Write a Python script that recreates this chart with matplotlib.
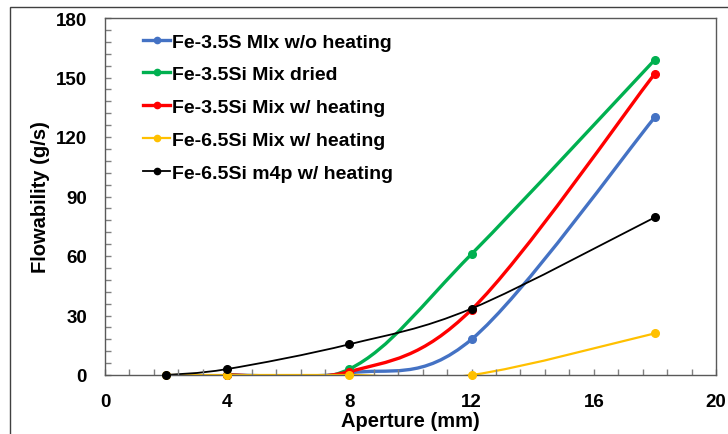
import numpy as np
import matplotlib
matplotlib.use("Agg")
import matplotlib.pyplot as plt
from matplotlib.path import Path
from matplotlib.patches import PathPatch, Rectangle
from matplotlib.lines import Line2D
from matplotlib.ticker import MultipleLocator

plt.rcParams['font.family'] = ['Liberation Sans', 'DejaVu Sans']
plt.rcParams['font.weight'] = 'bold'

# data
labels = ['Fe-3.5S MIx w/o heating', 'Fe-3.5Si Mix dried', 'Fe-3.5Si Mix w/ heating',
          'Fe-6.5Si Mix w/ heating', 'Fe-6.5Si m4p w/ heating']
blue_x = [4, 8, 12, 18]
blue_y = [0, 1, 18, 130]
green_x = [4, 8, 12, 18]
green_y = [0, 3, 61, 159]
red_x = [4, 8, 12, 18]
red_y = [0, 1.7, 33, 152]
orange_x = [2, 4, 8, 12, 18]
orange_y = [0, 0, 0, 0, 21]
black_x = [2, 4, 8, 12, 18]
black_y = [0, 3, 15.5, 33.5, 79.5]

colors = ['#4472C4', '#00B050', '#FF0000', '#FFC000', '#000000']
widths = [2.4, 2.4, 2.4, 1.6, 1.3]
series = [(blue_x, blue_y), (green_x, green_y), (red_x, red_y),
          (orange_x, orange_y), (black_x, black_y)]


def smooth_path(x, y):
    # Excel-like smoothed line: cubic bezier segments through the points
    pts = np.column_stack([x, y]).astype(float)
    n = len(pts)
    verts = [pts[0]]
    codes = [Path.MOVETO]
    for i in range(n - 1):
        p0 = pts[max(i - 1, 0)]
        p1 = pts[i]
        p2 = pts[i + 1]
        p3 = pts[min(i + 2, n - 1)]
        verts += [p1 + (p2 - p0) / 6, p2 - (p3 - p1) / 6, p2]
        codes += [Path.CURVE4] * 3
    return Path(verts, codes)


fig = plt.figure(figsize=(7.28, 4.35), dpi=100)
ax = fig.add_axes([105 / 728, 1 - 376 / 435, 611 / 728, 357 / 435])

handles = []
for (x, y), c, lw, lab in zip(series, colors, widths, labels):
    ax.add_patch(PathPatch(smooth_path(x, y), facecolor='none', edgecolor=c,
                           lw=lw, capstyle='round'))
    ax.plot(x, y, 'o', color=c, ms=5.5, clip_on=False, zorder=3)
    handles.append(Line2D([], [], color=c, lw=lw, marker='o', ms=4.5, label=lab))

ax.set_xlim(0, 20)
ax.set_ylim(0, 180)
ax.xaxis.set_major_locator(MultipleLocator(4))
ax.xaxis.set_minor_locator(MultipleLocator(0.8))
ax.yaxis.set_major_locator(MultipleLocator(30))
ax.yaxis.set_minor_locator(MultipleLocator(6))
ax.tick_params(which='both', direction='in', length=4, width=1, color='#808080')
ax.tick_params(axis='x', pad=13, labelsize=13.5)
ax.tick_params(axis='y', pad=13, labelsize=13.5)
for s in ax.spines.values():
    s.set_color('#595959')
    s.set_linewidth(1)

fig.text(410 / 728, 1 - 422 / 435, 'Aperture (mm)', ha='center', va='center',
         fontsize=14.5, fontweight='bold')
fig.text(41 / 728, 1 - 197 / 435, 'Flowability (g/s)', ha='center', va='center',
         rotation=90, fontsize=14.5, fontweight='bold')

leg = ax.legend(handles=handles, loc='upper left',
                bbox_to_anchor=(139 / 728, 1 - 30 / 435), bbox_transform=fig.transFigure,
                frameon=False, fontsize=14, handlelength=1.4, handletextpad=0.1,
                labelspacing=0.78, borderpad=0.2, borderaxespad=0)

fig.add_artist(Rectangle((10 / 728, -0.5), 2, 1.5 - 8 / 435, transform=fig.transFigure,
                         fill=False, edgecolor='#404040', lw=1))

fig.savefig('out.png', dpi=100)
